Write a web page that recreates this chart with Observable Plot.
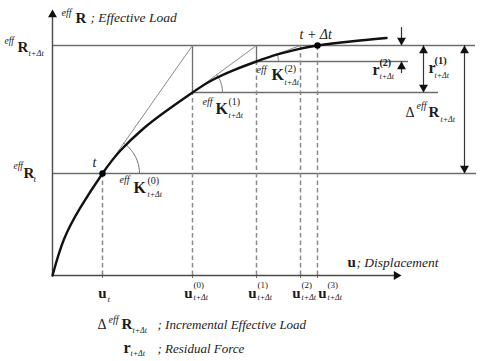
<!DOCTYPE html>
<html>
<head>
<meta charset="utf-8">
<script src="https://cdn.jsdelivr.net/npm/d3@7"></script>
<script src="https://cdn.jsdelivr.net/npm/@observablehq/plot@0.6"></script>
<style>
  html, body { margin: 0; padding: 0; background: #fff; }
  #chart svg { display: block; }
</style>
</head>
<body>
<div id="chart"></div>
<script>
// ---------- data (u_t = 1, eff R_t = 1) ----------
const uSteps = [1.0, 2.8, 4.08, 4.96, 5.3];          // u_t, u^(0), u^(1), u^(2), u^(3)
const uTickSup = ["", "(0)", "(1)", "(2)", "(3)"];     // tick label superscripts
const uTickSub = ["t", "t+Δt", "t+Δt", "t+Δt", "t+Δt"]; // tick label subscripts
const loadRt = 1.0;                                   // eff R_t
const loadIter = [1.794, 2.098];                      // load after iterations 0, 1
const loadTarget = 2.255;                             // eff R_{t+Δt}
const curveU = [0, 0.22, 0.56, 1.0, 1.36, 1.82, 2.26, 2.8, 3.18, 3.64, 4.08, 4.5, 4.94, 5.3, 5.96, 6.68];
const curveR = [0, 0.343, 0.667, 1.0, 1.225, 1.441, 1.608, 1.794, 1.912, 2.016, 2.098, 2.167, 2.222, 2.255, 2.294, 2.328];

// ---------- layout ----------
const W = 480, H = 361, ML = 52, MR = 0, MT = 0, MB = 86;
const X_DOMAIN = [0, 8.56], Y_DOMAIN = [0, 2.696];
const serif = "Liberation Serif";
const INK = "#1c1c1c", GUIDE = "#6e6e6e", THIN = "#8a8a8a";

const xs = Plot.scale({x: {domain: X_DOMAIN, range: [ML, W - MR]}});
const ys = Plot.scale({y: {domain: Y_DOMAIN, range: [H - MB, MT]}});

const curve = curveU.map((u, i) => ({u, R: curveR[i]}));

// angle arc between horizontal and tangent direction, radius in px
function arc(uc, Rc, un, Rn, r) {
  const cx = xs.apply(uc), cy = ys.apply(Rc);
  const a = Math.atan2(cy - ys.apply(Rn), xs.apply(un) - cx);
  const pts = [];
  for (let k = 0; k <= 24; k++) {
    const t = a * k / 24;
    pts.push({u: xs.invert(cx + r * Math.cos(t)), R: ys.invert(cy - r * Math.sin(t))});
  }
  return pts;
}

function T(x, y, str, dx, dy, size, o = {}) {
  return Plot.text([0], {
    x: [x], y: [y], text: [str], dx, dy,
    fontSize: size, fontFamily: serif,
    fontWeight: o.b ? "bold" : "normal",
    fontStyle: o.i ? "italic" : "normal",
    textAnchor: o.a || "start", lineAnchor: "bottom",
    fill: o.fill || INK
  });
}

const axisTopR = 2.608, axisEndU = 6.98;
const r2X = 6.98, r1X = 7.42, dRX = 8.24;
const r2DownFrom = 2.43, r2UpFrom = 1.98;

const HR = 3.3, TIP = 1.555 * HR;

const marks = [
  // horizontal guide lines
  Plot.ruleY([
    {y: loadTarget, x1: 0, x2: 8.46},
    {y: loadRt, x1: 0, x2: 8.48},
    {y: loadIter[0], x1: uSteps[1], x2: 7.72},
    {y: loadIter[1], x1: uSteps[2], x2: 7.12}
  ], {y: "y", x1: "x1", x2: "x2", stroke: GUIDE, strokeWidth: 1.3}),
  // solid verticals (load steps back to target)
  Plot.ruleX([
    {x: uSteps[1], y1: loadIter[0], y2: loadTarget},
    {x: uSteps[2], y1: loadIter[1], y2: loadTarget}
  ], {x: "x", y1: "y1", y2: "y2", stroke: GUIDE, strokeWidth: 1.3}),
  // dashed drop lines
  Plot.ruleX([
    {x: uSteps[0], y2: loadRt},
    {x: uSteps[1], y2: loadIter[0]},
    {x: uSteps[2], y2: loadIter[1]},
    {x: uSteps[3], y2: loadTarget},
    {x: uSteps[4], y2: loadTarget}
  ], {x: "x", y1: 0, y2: "y2", stroke: THIN, strokeWidth: 1.5, strokeDasharray: "4.5,3"}),
  // tangent stiffness lines
  Plot.link([
    {x1: uSteps[0], y1: loadRt, x2: uSteps[1], y2: loadTarget},
    {x1: uSteps[1], y1: loadIter[0], x2: uSteps[2], y2: loadTarget},
    {x1: uSteps[2], y1: loadIter[1], x2: uSteps[3], y2: loadTarget}
  ], {x1: "x1", y1: "y1", x2: "x2", y2: "y2", stroke: THIN, strokeWidth: 1}),
  // angle arcs
  Plot.line(arc(uSteps[0], loadRt, uSteps[1], loadTarget, 37), {x: "u", y: "R", stroke: GUIDE, strokeWidth: 1}),
  Plot.line(arc(uSteps[1], loadIter[0], uSteps[2], loadTarget, 30), {x: "u", y: "R", stroke: GUIDE, strokeWidth: 1}),
  Plot.line(arc(uSteps[2], loadIter[1], uSteps[3], loadTarget, 22), {x: "u", y: "R", stroke: GUIDE, strokeWidth: 1}),
  // axes
  Plot.axisX({ticks: uSteps, tickSize: 3, tickFormat: () => "", stroke: GUIDE}),
  Plot.ruleY([0], {x1: 0, x2: axisEndU - 0.1, stroke: "#4a4a4a", strokeWidth: 1.4}),
  Plot.ruleX([0], {y1: 0, y2: axisTopR - 0.05, stroke: "#4a4a4a", strokeWidth: 1.4}),
  // load-displacement curve
  Plot.line(curve, {x: "u", y: "R", curve: "natural", stroke: "#111", strokeWidth: 2.4}),
  Plot.dot([{u: uSteps[0], R: loadRt}, {u: uSteps[4], R: loadTarget}], {x: "u", y: "R", r: 3.2, fill: "#000"}),
  // dimension arrows
  Plot.ruleX([
    {x: r2X, y1: r2DownFrom, y2: loadTarget},
    {x: r2X, y1: r2UpFrom, y2: loadIter[1]},
    {x: r1X, y1: loadIter[0], y2: loadTarget},
    {x: dRX, y1: loadRt, y2: loadTarget}
  ], {x: "x", y1: "y1", y2: "y2", stroke: "#333", strokeWidth: 1.2}),
  // arrow heads pointing up
  Plot.dot([
    {x: 0, y: axisTopR}, {x: r2X, y: loadIter[1]}, {x: r1X, y: loadTarget}, {x: dRX, y: loadTarget}
  ], {x: "x", y: "y", symbol: "triangle", r: HR, fill: "#111", dy: TIP}),
  // arrow heads pointing down
  Plot.dot([
    {x: r2X, y: loadTarget}, {x: r1X, y: loadIter[0]}, {x: dRX, y: loadRt}
  ], {x: "x", y: "y", symbol: "triangle", r: HR, fill: "#111", rotate: 180, dy: -TIP}),
  // arrow head pointing right (x axis)
  Plot.dot([{x: axisEndU, y: 0}], {x: "x", y: "y", symbol: "triangle", r: HR, fill: "#111", rotate: 90, dx: -TIP}),

  // ---- texts ----
  // y axis title
  T(0, axisTopR, "eff", 9, 7, 10, {i: true}),
  T(0, axisTopR, "R", 23, 14, 15, {b: true}),
  T(0, axisTopR, "; Effective Load", 38, 13, 13.5, {i: true}),
  // left R_{t+Δt}
  T(0, loadTarget, "eff", -48, -1, 9.5, {i: true}),
  T(0, loadTarget, "R", -35, 7, 15, {b: true}),
  T(0, loadTarget, "t+Δt", -24, 11, 8.5, {i: true}),
  // left R_t
  T(0, loadRt, "eff", -39, -4, 9.5, {i: true}),
  T(0, loadRt, "R", -29, 5, 15, {b: true}),
  T(0, loadRt, "t", -19, 9, 9, {i: true}),
  // points
  T(uSteps[0], loadRt, "t", -10, -6, 14, {i: true}),
  T(uSteps[4], loadTarget, "t + Δt", -18, -6, 14, {i: true}),
  // K^(0)
  T(uSteps[0], loadRt, "eff", 17, 10, 10, {i: true}),
  T(uSteps[0], loadRt, "K", 31, 20, 16, {b: true}),
  T(uSteps[0], loadRt, "(0)", 45, 11, 10),
  T(uSteps[0], loadRt, "t+Δt", 45, 24, 8, {i: true}),
  // K^(1)
  T(uSteps[1], loadIter[0], "eff", 10, 12, 10, {i: true}),
  T(uSteps[1], loadIter[0], "K", 23, 21, 16, {b: true}),
  T(uSteps[1], loadIter[0], "(1)", 36, 12, 10),
  T(uSteps[1], loadIter[0], "t+Δt", 36, 25, 8, {i: true}),
  // K^(2)
  T(uSteps[2], loadIter[1], "eff", 0, 12, 10, {i: true}),
  T(uSteps[2], loadIter[1], "K", 15, 19, 16, {b: true}),
  T(uSteps[2], loadIter[1], "(2)", 28, 11, 10),
  T(uSteps[2], loadIter[1], "t+Δt", 28, 24, 8, {i: true}),
  // r^(2)
  T(r2X, loadIter[1], "r", -29, 14, 16, {b: true}),
  T(r2X, loadIter[1], "(2)", -22, 5, 10, {b: true}),
  T(r2X, loadIter[1], "t+Δt", -22, 18, 8, {i: true}),
  // r^(1)
  T(r1X, loadTarget, "r", 5, 28, 16, {b: true}),
  T(r1X, loadTarget, "(1)", 11, 19, 10.5, {b: true}),
  T(r1X, loadTarget, "t+Δt", 11, 33, 8, {i: true}),
  // Δ eff R_{t+Δt}
  T(dRX, loadTarget, "Δ", -59, 72, 14),
  T(dRX, loadTarget, "eff", -48, 64, 10, {i: true}),
  T(dRX, loadTarget, "R", -36, 72, 15, {b: true}),
  T(dRX, loadTarget, "t+Δt", -24, 77, 8, {i: true}),
  // x axis title
  T(axisEndU, 0, "u", -54, -9, 15, {b: true}),
  T(axisEndU, 0, "; Displacement", -45, -9, 13.5, {i: true}),
  // x tick labels
  T(uSteps[0], 0, "u", 0, 22, 15, {b: true, a: "middle"}),
  T(uSteps[0], 0, uTickSub[0], 5, 26, 9, {i: true}),
  ...uSteps.slice(1).map((u, k) => {
    const shift = k === 3 ? 9 : 0;
    return [
      T(u, 0, "u", shift, 22, 15, {b: true, a: "end"}),
      T(u, 0, uTickSup[k + 1], shift + 1, 12, 9),
      T(u, 0, uTickSub[k + 1], shift + 1, 24, 8, {i: true})
    ];
  }).flat(),
  // legend
  T(0, 0, "Δ", 45, 53, 14),
  T(0, 0, "eff", 56, 47, 10, {i: true}),
  T(0, 0, "R", 69, 53, 15, {b: true}),
  T(0, 0, "t+Δt", 80, 57, 8, {i: true}),
  T(0, 0, "; Incremental Effective Load", 105, 53, 13, {i: true}),
  T(0, 0, "r", 71, 77, 16, {b: true}),
  T(0, 0, "t+Δt", 78, 80, 8, {i: true}),
  T(0, 0, "; Residual Force", 105, 77, 13, {i: true})
];

const chart = Plot.plot({
  width: W, height: H,
  marginLeft: ML, marginRight: MR, marginTop: MT, marginBottom: MB,
  x: {domain: X_DOMAIN, axis: null},
  y: {domain: Y_DOMAIN, axis: null},
  style: {background: "#fff", overflow: "visible"},
  marks
});
document.getElementById("chart").append(chart);
</script>
</body>
</html>
